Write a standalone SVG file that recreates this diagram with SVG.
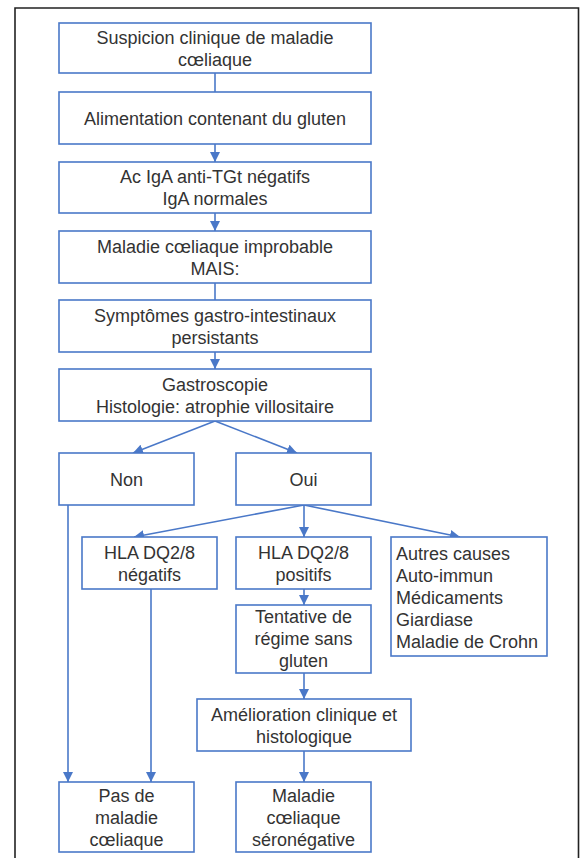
<svg xmlns="http://www.w3.org/2000/svg" width="582" height="858" viewBox="0 0 582 858">
<defs>
<style>
.box{fill:#fff;stroke:#4a78c8;stroke-width:1.6}
.t{font-family:"Liberation Sans",Arial,sans-serif;font-size:18px;fill:#333;text-anchor:middle}
.l{font-family:"Liberation Sans",Arial,sans-serif;font-size:18px;fill:#333;text-anchor:start}
.c{stroke:#4a78c8;stroke-width:1.6;fill:none}
</style>
<marker id="ah" viewBox="0 0 10 10" refX="10" refY="5" markerWidth="10" markerHeight="10" markerUnits="userSpaceOnUse" orient="auto">
<path d="M0,0 L10,5 L0,10 z" fill="#4a78c8"/>
</marker>
</defs>
<rect x="0" y="0" width="582" height="858" fill="#fff"/>
<path d="M15,870 L15,8 L578.5,8 L578.5,870" fill="none" stroke="#222" stroke-width="1.6"/>
<g id="connectors">
<line class="c" x1="215" y1="73" x2="215" y2="92"/>
<line class="c" x1="215" y1="144" x2="215" y2="162" marker-end="url(#ah)"/>
<line class="c" x1="215" y1="213" x2="215" y2="231" marker-end="url(#ah)"/>
<line class="c" x1="215" y1="283" x2="215" y2="300"/>
<line class="c" x1="215" y1="352" x2="215" y2="369" marker-end="url(#ah)"/>
<line class="c" x1="215" y1="421" x2="133" y2="453" marker-end="url(#ah)"/>
<line class="c" x1="215" y1="421" x2="297" y2="453" marker-end="url(#ah)"/>
<line class="c" x1="304" y1="505" x2="134" y2="537" marker-end="url(#ah)"/>
<line class="c" x1="304" y1="505" x2="304" y2="537" marker-end="url(#ah)"/>
<line class="c" x1="304" y1="505" x2="460" y2="537" marker-end="url(#ah)"/>
<line class="c" x1="68" y1="505" x2="68" y2="782" marker-end="url(#ah)"/>
<line class="c" x1="151" y1="589" x2="151" y2="782" marker-end="url(#ah)"/>
<line class="c" x1="304" y1="589" x2="304" y2="605" marker-end="url(#ah)"/>
<line class="c" x1="304" y1="673" x2="304" y2="699" marker-end="url(#ah)"/>
<line class="c" x1="304" y1="751" x2="304" y2="782" marker-end="url(#ah)"/>
</g>
<g id="n1"><rect class="box" x="59" y="23" width="312" height="50"/>
<text class="t" x="215" y="44">Suspicion clinique de maladie</text>
<text class="t" x="215" y="66">cœliaque</text></g>
<g id="n2"><rect class="box" x="59" y="92" width="312" height="52"/>
<text class="t" x="215" y="124.5">Alimentation contenant du gluten</text></g>
<g id="n3"><rect class="box" x="59" y="162" width="312" height="51"/>
<text class="t" x="215" y="183">Ac IgA anti-TGt négatifs</text>
<text class="t" x="215" y="205">IgA normales</text></g>
<g id="n4"><rect class="box" x="59" y="231" width="312" height="52"/>
<text class="t" x="215" y="253">Maladie cœliaque improbable</text>
<text class="t" x="215" y="275">MAIS:</text></g>
<g id="n5"><rect class="box" x="59" y="300" width="312" height="52"/>
<text class="t" x="215" y="322">Symptômes gastro-intestinaux</text>
<text class="t" x="215" y="344">persistants</text></g>
<g id="n6"><rect class="box" x="59" y="369" width="312" height="52"/>
<text class="t" x="215" y="391">Gastroscopie</text>
<text class="t" x="215" y="413">Histologie: atrophie villositaire</text></g>
<g id="non"><rect class="box" x="59" y="453" width="135" height="52"/>
<text class="t" x="126.5" y="485.5">Non</text></g>
<g id="oui"><rect class="box" x="236" y="453" width="135" height="52"/>
<text class="t" x="303.5" y="485.5">Oui</text></g>
<g id="hlaneg"><rect class="box" x="82" y="537" width="135" height="52"/>
<text class="t" x="149.5" y="559">HLA DQ2/8</text>
<text class="t" x="149.5" y="581">négatifs</text></g>
<g id="hlapos"><rect class="box" x="236" y="537" width="135" height="52"/>
<text class="t" x="303.5" y="559">HLA DQ2/8</text>
<text class="t" x="303.5" y="581">positifs</text></g>
<g id="autres"><rect class="box" x="391" y="537" width="156" height="119"/>
<text class="l" x="396" y="560">Autres causes</text>
<text class="l" x="396" y="582">Auto-immun</text>
<text class="l" x="396" y="604">Médicaments</text>
<text class="l" x="396" y="626">Giardiase</text>
<text class="l" x="396" y="648">Maladie de Crohn</text></g>
<g id="tentative"><rect class="box" x="236" y="605" width="135" height="68"/>
<text class="t" x="303.5" y="623">Tentative de</text>
<text class="t" x="303.5" y="645">régime sans</text>
<text class="t" x="303.5" y="667">gluten</text></g>
<g id="amelioration"><rect class="box" x="197" y="699" width="214" height="52"/>
<text class="t" x="304" y="721">Amélioration clinique et</text>
<text class="t" x="304" y="743">histologique</text></g>
<g id="pasde"><rect class="box" x="59" y="782" width="135" height="70"/>
<text class="t" x="126.5" y="801.5">Pas de</text>
<text class="t" x="126.5" y="823.5">maladie</text>
<text class="t" x="126.5" y="845.5">cœliaque</text></g>
<g id="seroneg"><rect class="box" x="236" y="782" width="135" height="70"/>
<text class="t" x="303.5" y="801.5">Maladie</text>
<text class="t" x="303.5" y="823.5">cœliaque</text>
<text class="t" x="303.5" y="845.5">séronégative</text></g>
</svg>
